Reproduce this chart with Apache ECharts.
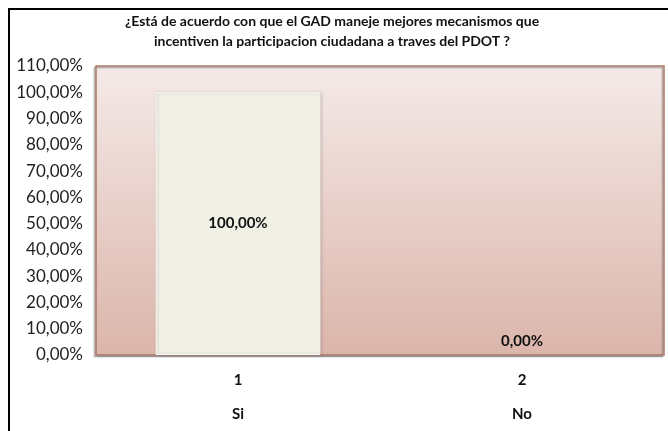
<!DOCTYPE html>
<html>
<head>
<meta charset="utf-8">
<script src="https://cdn.jsdelivr.net/npm/echarts@6/dist/echarts.min.js"></script>
<style>
  html, body { margin: 0; padding: 0; background: #fff; }
  #chart { width: 668px; height: 431px; }
</style>
</head>
<body>
<div id="chart"></div>
<script>
// chart data
var categories = ['1', '2'];
var answers = ['Si', 'No'];
var values = [1.0, 0.0];
var titleText = '¿Está de acuerdo con que el GAD maneje mejores mecanismos que\nincentiven la participacion ciudadana a traves del PDOT ?';

function pct(v) {
    return (v * 100).toFixed(2).replace('.', ',') + '%';
}

var chart = echarts.init(document.getElementById('chart'));

// first bar gets its label in the middle, empty bar gets it on top
var barData = values.map(function (v, i) {
    var item = { value: v };
    if (v > 0) {
        item.label = { show: true, position: 'inside' };
    } else {
        item.label = { show: true, position: 'top', distance: 6 };
        item.itemStyle = { color: 'rgba(0,0,0,0)', borderWidth: 0, shadowBlur: 0, shadowOffsetX: 0 };
    }
    return item;
});

var option = {
    animation: false,
    textStyle: { fontFamily: 'Lato, "Open Sans", sans-serif' },
    title: {
        text: titleText,
        left: 327,
        top: 6,
        textAlign: 'center',
        textStyle: {
            fontSize: 14,
            fontWeight: 'bold',
            color: '#111',
            lineHeight: 20
        }
    },
    graphic: [
        {
            type: 'rect',
            shape: { x: 9, y: 9, width: 700, height: 500 },
            style: { fill: 'none', stroke: '#000', lineWidth: 2 },
            silent: true
        }
    ],
    grid: {
        left: 96,
        top: 66,
        right: 4,
        bottom: 67,
        show: true,
        borderColor: '#a87766',
        borderWidth: 1.5,
        shadowColor: 'rgba(140,140,140,0.7)',
        shadowBlur: 1,
        shadowOffsetX: -1.5,
        shadowOffsetY: 1.5,
        backgroundColor: new echarts.graphic.LinearGradient(0, 0, 0, 1, [
            { offset: 0, color: '#f5eae8' },
            { offset: 1, color: '#dbb5aa' }
        ])
    },
    xAxis: {
        type: 'category',
        data: categories,
        axisLine: { show: false },
        axisTick: { show: false },
        axisLabel: {
            margin: 8,
            formatter: function (v, i) {
                return v + '\n' + answers[i];
            },
            fontSize: 15,
            fontWeight: 'bold',
            color: '#111',
            lineHeight: 34
        }
    },
    yAxis: {
        type: 'value',
        min: 0,
        max: 1.1,
        interval: 0.1,
        axisLine: { show: false },
        axisTick: { show: false },
        splitLine: { show: false },
        axisLabel: {
            margin: 13,
            fontSize: 17,
            color: '#222',
            formatter: pct
        }
    },
    series: [
        {
            type: 'bar',
            data: barData,
            barWidth: '58%',
            itemStyle: {
                color: '#f1f0e5',
                borderColor: '#fafaf6',
                borderWidth: 1,
                shadowColor: 'rgba(120,110,110,0.35)',
                shadowBlur: 3,
                shadowOffsetX: 1,
                shadowOffsetY: 0
            },
            label: {
                formatter: function (p) { return pct(p.value); },
                fontSize: 15,
                fontWeight: 'bold',
                color: '#111'
            }
        }
    ]
};

chart.setOption(option);
</script>
</body>
</html>
